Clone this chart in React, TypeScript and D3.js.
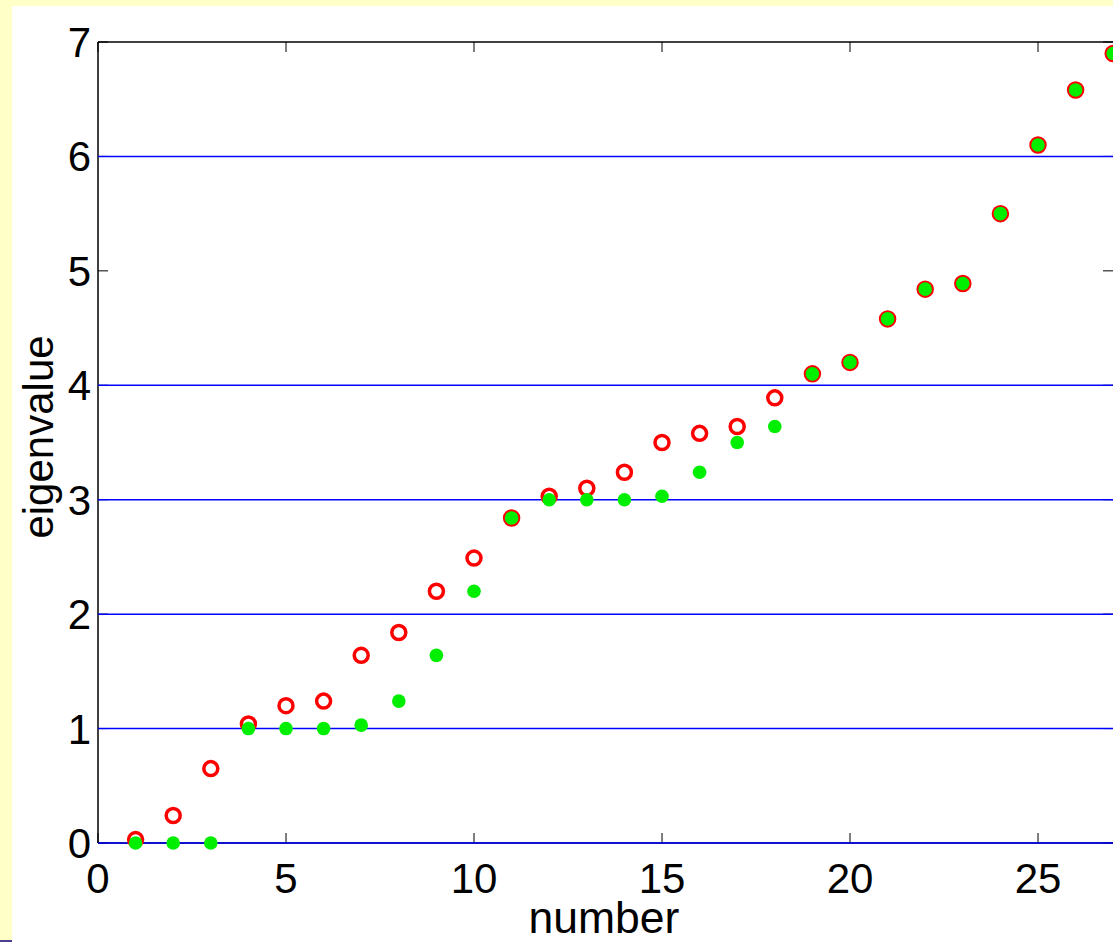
import React from "react";
import * as d3 from "d3";

const indices = d3.range(1, 28);
const redValues = [0.03, 0.24, 0.65, 1.04, 1.2, 1.24, 1.64, 1.84, 2.2, 2.49, 2.84, 3.03, 3.1, 3.24, 3.5, 3.58, 3.64, 3.89, 4.1, 4.2, 4.58, 4.84, 4.89, 5.5, 6.1, 6.58, 6.9];
const greenValues = [0, 0, 0, 1.0, 1.0, 1.0, 1.03, 1.24, 1.64, 2.2, 2.84, 3.0, 3.0, 3.0, 3.03, 3.24, 3.5, 3.64, 4.1, 4.2, 4.58, 4.84, 4.89, 5.5, 6.1, 6.58, 6.9];
const xTicks = [0, 5, 10, 15, 20, 25];
const yTicks = [0, 1, 2, 3, 4, 5, 6, 7];
const gridValues = [0, 1, 2, 3, 4, 6];

const W = 1113, H = 942;
const left = 98, top = 42, bottom = 843, right = 1113 + 8;

export default function App() {
  const x = d3.scaleLinear().domain([0, 27]).range([left, left + 27 * 37.6]);
  const y = d3.scaleLinear().domain([0, 7]).range([bottom, top]);
  const font = "Liberation Sans, Arial, sans-serif";
  return (
    <div style={{ position: "fixed", left: 0, top: 0 }}>
      <svg width={W} height={H} style={{ display: "block" }}>
        <rect x={0} y={0} width={W} height={H} fill="#FFFFC8" />
        <rect x={12} y={6} width={W - 12} height={H - 6} fill="#FFFFFF" />
        <line x1={0} x2={12} y1={941} y2={941} stroke="#4B3F8F" strokeWidth={2} />
        {/* frame */}
        <line x1={left} x2={right} y1={top} y2={top} stroke="#000" strokeWidth={1.5} />
        <line x1={left} x2={left} y1={top} y2={bottom} stroke="#000" strokeWidth={1.5} />
        <line x1={left} x2={right} y1={bottom} y2={bottom} stroke="#000" strokeWidth={1.5} />
        {/* ticks */}
        {xTicks.map((t) => (
          <g key={"xt" + t}>
            <line x1={x(t)} x2={x(t)} y1={bottom} y2={bottom - 10} stroke="#000" strokeWidth={1} />
            <line x1={x(t)} x2={x(t)} y1={top} y2={top + 10} stroke="#000" strokeWidth={1} />
            <text x={x(t)} y={893} textAnchor="middle" fontFamily={font} fontSize={42} fill="#000">{t}</text>
          </g>
        ))}
        {yTicks.map((t) => (
          <g key={"yt" + t}>
            <line x1={left} x2={left + 10} y1={y(t)} y2={y(t)} stroke="#000" strokeWidth={1} />
            <line x1={W - 10} x2={W} y1={y(t)} y2={y(t)} stroke="#000" strokeWidth={1} />
            <text x={91} y={y(t) + 15} textAnchor="end" fontFamily={font} fontSize={42} fill="#000">{t}</text>
          </g>
        ))}
        {/* grid lines */}
        {gridValues.map((g) => (
          <line key={"g" + g} x1={left} x2={right} y1={y(g)} y2={y(g)} stroke="#0000FF" strokeWidth={1.5} />
        ))}
        {/* red open circles */}
        {indices.map((i, k) => (
          <circle key={"r" + i} cx={x(i)} cy={y(redValues[k])} r={7} fill="none" stroke="#FF0000" strokeWidth={3.5} />
        ))}
        {/* green filled */}
        {indices.map((i, k) => (
          <circle key={"gr" + i} cx={x(i)} cy={y(greenValues[k])} r={6.8} fill="#00EE00" />
        ))}
        <text x={604} y={933} textAnchor="middle" fontFamily={font} fontSize={44.5} fill="#000">number</text>
        <text transform={`translate(53,437) rotate(-90)`} textAnchor="middle" fontFamily={font} fontSize={42} fill="#000">eigenvalue</text>
      </svg>
    </div>
  );
}
